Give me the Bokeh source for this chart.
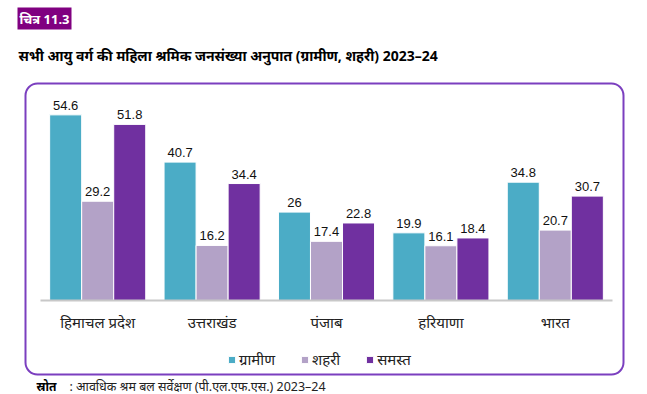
import numpy as np
from bokeh.plotting import figure
from bokeh.models import Range1d, BoxAnnotation, Label, Legend, LegendItem
from bokeh.core.properties import value
from bokeh.embed import file_html
from bokeh.resources import INLINE

# ---- data ----
categories = ["हिमाचल प्रदेश", "उत्तराखंड", "पंजाब", "हरियाणा", "भारत"]
rural = [54.6, 40.7, 26, 19.9, 34.8]
urban = [29.2, 16.2, 17.4, 16.1, 20.7]
total = [51.8, 34.4, 22.8, 18.4, 30.7]
series_names = ["ग्रामीण", "शहरी", "समस्त"]
series_values = [rural, urban, total]
colors = ["#4BACC6", "#B3A2C7", "#7030A0"]
fig_label = "चित्र 11.3"
title_text = "सभी आयु वर्ग की महिला श्रमिक जनसंख्या अनुपात (ग्रामीण, शहरी) 2023–24"
source_head = "स्रोत"
source_text = ": आवधिक श्रम बल सर्वेक्षण (पी.एल.एफ.एस.) 2023–24"

# ---- layout ----
W, H = 647, 394
SX = 114.4   # px per category
SY = 3.40    # px per value unit
x0 = -40 / SX
yb = -(H - 300) / SY
xr = Range1d(x0, x0 + W / SX)
yr = Range1d(yb, yb + H / SY)

def px(x):
    return x0 + x / SX

def py(y):
    return yb + (H - y) / SY

DEV = "Noto Sans"
NUM = "Liberation Sans"

p = figure(width=W, height=H, x_range=xr, y_range=yr, output_backend="svg",
           toolbar_location=None, min_border=0, outline_line_color=None,
           x_axis_location=None, y_axis_location=None)
p.grid.visible = False
p.background_fill_color = "white"
p.border_fill_color = "white"

centers = np.arange(len(categories)) + 0.5
bw = 0.28
renderers = []
for j, (vals, c) in enumerate(zip(series_values, colors)):
    xs = centers + (j - 1) * bw
    r = p.vbar(x=xs, top=vals, bottom=0, width=bw, fill_color=c,
               line_color="white", line_width=1)
    renderers.append(r)
    p.text(x=xs, y=vals, text=[f"{v:g}" for v in vals], text_align="center",
           text_baseline="bottom", y_offset=-5, text_font=value(NUM),
           text_font_size="13px", text_color="#111111")

# baseline
p.segment(x0=[0], y0=[0], x1=[len(categories)], y1=[0], line_color="#C8C8C8", line_width=2)

# category labels
p.text(x=centers, y=[0] * len(categories), text=categories, text_align="center",
       text_baseline="middle", y_offset=21, text_font=value(DEV),
       text_font_size="15px", text_color="#222222")

# outer rounded frame
p.add_layout(BoxAnnotation(left=px(25), right=px(623), top=py(83), bottom=py(374),
                           fill_alpha=0, line_color="#7B3FBF", line_alpha=1, line_width=2,
                           border_radius=12))

# figure number box
p.add_layout(BoxAnnotation(left=px(17), right=px(71), top=py(7), bottom=py(29),
                           fill_color="#800080", fill_alpha=1, line_alpha=0))
p.add_layout(Label(x=px(19), y=py(18), text=fig_label, text_color="white",
                   text_font=DEV, text_font_style="bold", text_font_size="13px",
                   text_baseline="middle"))

# title
p.add_layout(Label(x=px(18), y=py(55), text=title_text, text_color="black",
                   text_font=DEV, text_font_style="bold", text_font_size="14px",
                   text_baseline="middle"))

# source
p.add_layout(Label(x=px(36), y=py(386), text=source_head, text_color="black",
                   text_font=DEV, text_font_style="bold", text_font_size="12px",
                   text_baseline="middle"))
p.add_layout(Label(x=px(69), y=py(386), text=source_text, text_color="#222222",
                   text_font=DEV, text_font_size="12.5px", text_baseline="middle"))

legend = Legend(items=[LegendItem(label=n, renderers=[r]) for n, r in zip(series_names, renderers)],
                orientation="horizontal", location=(227, 25), padding=0, margin=0,
                spacing=25, glyph_width=9, glyph_height=9, label_standoff=3,
                label_text_font=DEV, label_text_font_size="15px", label_height=16,
                label_text_color="#222222",
                background_fill_alpha=0, border_line_alpha=0)
p.add_layout(legend, "center")

open("out.html", "w").write(file_html(p, INLINE))
